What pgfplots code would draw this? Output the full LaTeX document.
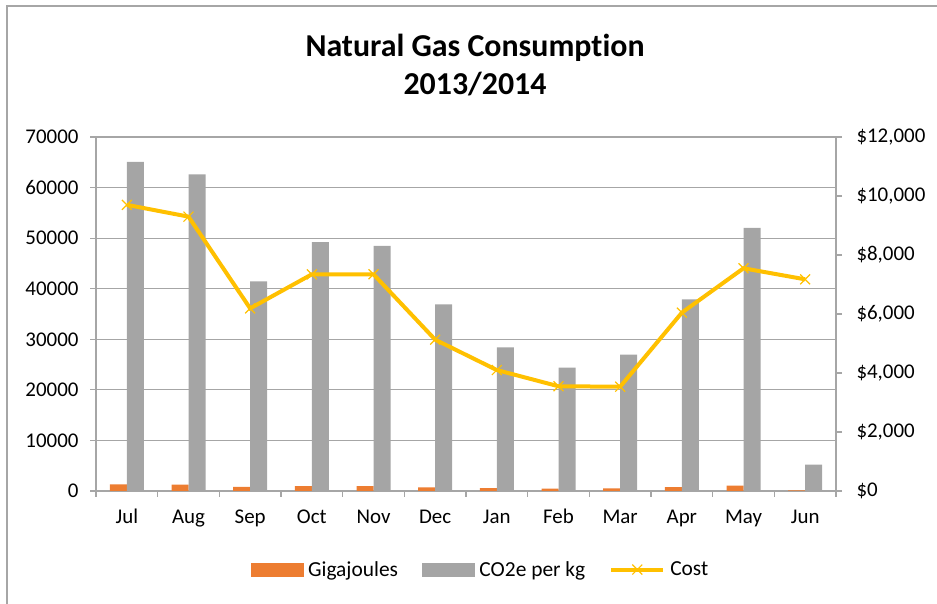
\documentclass[border=0pt]{standalone}
\usepackage{fontspec}
\setmainfont{Carlito}[Ligatures=NoCommon]
\usepackage{pgfplots}
\pgfplotsset{compat=1.18}
\definecolor{gj}{HTML}{ED7D31}
\definecolor{co}{HTML}{A5A5A5}
\definecolor{cost}{HTML}{FFC000}
\definecolor{gridc}{HTML}{A6A6A6}
\pgfplotsset{costleg/.style={legend image code/.code={\draw[##1,mark repeat=2,mark phase=2] plot coordinates {(0bp,0bp) (26bp,0bp) (52bp,0bp)};}}}

\begin{document}
\begin{tikzpicture}
\useasboundingbox (0bp,0bp) rectangle (937bp,604bp);
\draw[gridc, line width=1.2bp] (7bp,-2bp) -- (7bp,598bp) -- (940bp,598bp);
\node[font=\fontsize{32}{38}\selectfont\bfseries, align=center] at (475bp,539bp) {Natural Gas Consumption\\2013/2014};

\begin{axis}[
  at={(96bp,113bp)}, anchor=south west, scale only axis,
  width=740bp, height=354bp,
  xmin=-0.5, xmax=11.5, ymin=0, ymax=70000,
  ybar=0pt, bar width=17bp,
  axis x line*=bottom, axis y line*=left,
  axis line style={gridc, line width=1.2bp, -},
  xtick={0,...,11},
  xticklabels={Jul,Aug,Sep,Oct,Nov,Dec,Jan,Feb,Mar,Apr,May,Jun},
  major x tick style={draw=none},
  minor xtick={-0.5,0.5,...,11.5},
  ytick={0,10000,...,70000},
  tick align=outside,
  major tick length=6bp, minor tick length=6bp,
  tick style={gridc, line width=1.2bp},
  ymajorgrids, grid style={gridc, line width=1.2bp},
  ticklabel style={font=\fontsize{21}{25}\selectfont, text=black},
  /pgf/number format/assume math mode=true,
  scaled y ticks=false,
  yticklabel style={/pgf/number format/1000 sep={}, xshift=-8bp},
  xticklabel style={yshift=-9bp, text height=14bp, text depth=4bp},
  clip=false,
]
\addplot[fill=gj, draw=none] coordinates {
(0,1300) (1,1250) (2,830) (3,980) (4,970) (5,740) (6,570) (7,490) (8,540) (9,760) (10,1040) (11,100)};
\addplot[fill=co, draw=none] coordinates {
(0,65100) (1,62600) (2,41450) (3,49200) (4,48450) (5,36900) (6,28400) (7,24400) (8,26950) (9,37900) (10,52050) (11,5220)};
\end{axis}

\begin{axis}[
  at={(96bp,113bp)}, anchor=south west, scale only axis,
  width=740bp, height=354bp,
  xmin=-0.5, xmax=11.5, ymin=0, ymax=12000,
  axis y line*=right, axis x line=none,
  axis line style={gridc, line width=1.2bp, -},
  ytick={0,2000,...,12000},
  tick align=outside, major tick length=6bp,
  tick style={gridc, line width=1.2bp},
  ticklabel style={font=\fontsize{21}{25}\selectfont, text=black},
  /pgf/number format/assume math mode=true,
  scaled y ticks=false,
  yticklabel={\$\pgfmathprintnumber[fixed,1000 sep={,}]{\tick}},
  yticklabel style={xshift=11bp},
  clip=false,
  legend style={draw=none, fill=none, at={(0.5196,-0.222)}, anchor=center,
    legend columns=3, font=\fontsize{21.5}{25}\selectfont,
    /tikz/every even column/.append style={column sep=22bp},
    /tikz/every odd column/.append style={column sep=3bp}},
  legend cell align=left,
]
\addlegendimage{legend image code/.code={\fill[gj] (0,-6.5bp) rectangle (52bp,6.5bp);}}
\addlegendentry{Gigajoules}
\addlegendimage{legend image code/.code={\fill[co] (0,-6.5bp) rectangle (52bp,6.5bp);}}
\addlegendentry{CO2e per kg}
\addplot[cost, line width=4bp, mark=x, mark size=7bp, mark options={line width=1.2bp}, costleg]
coordinates {
(0,9700) (1,9300) (2,6190) (3,7345) (4,7345) (5,5130) (6,4100) (7,3550) (8,3535) (9,6045) (10,7550) (11,7175)};
\addlegendentry{Cost}
\end{axis}
\end{tikzpicture}
\end{document}
